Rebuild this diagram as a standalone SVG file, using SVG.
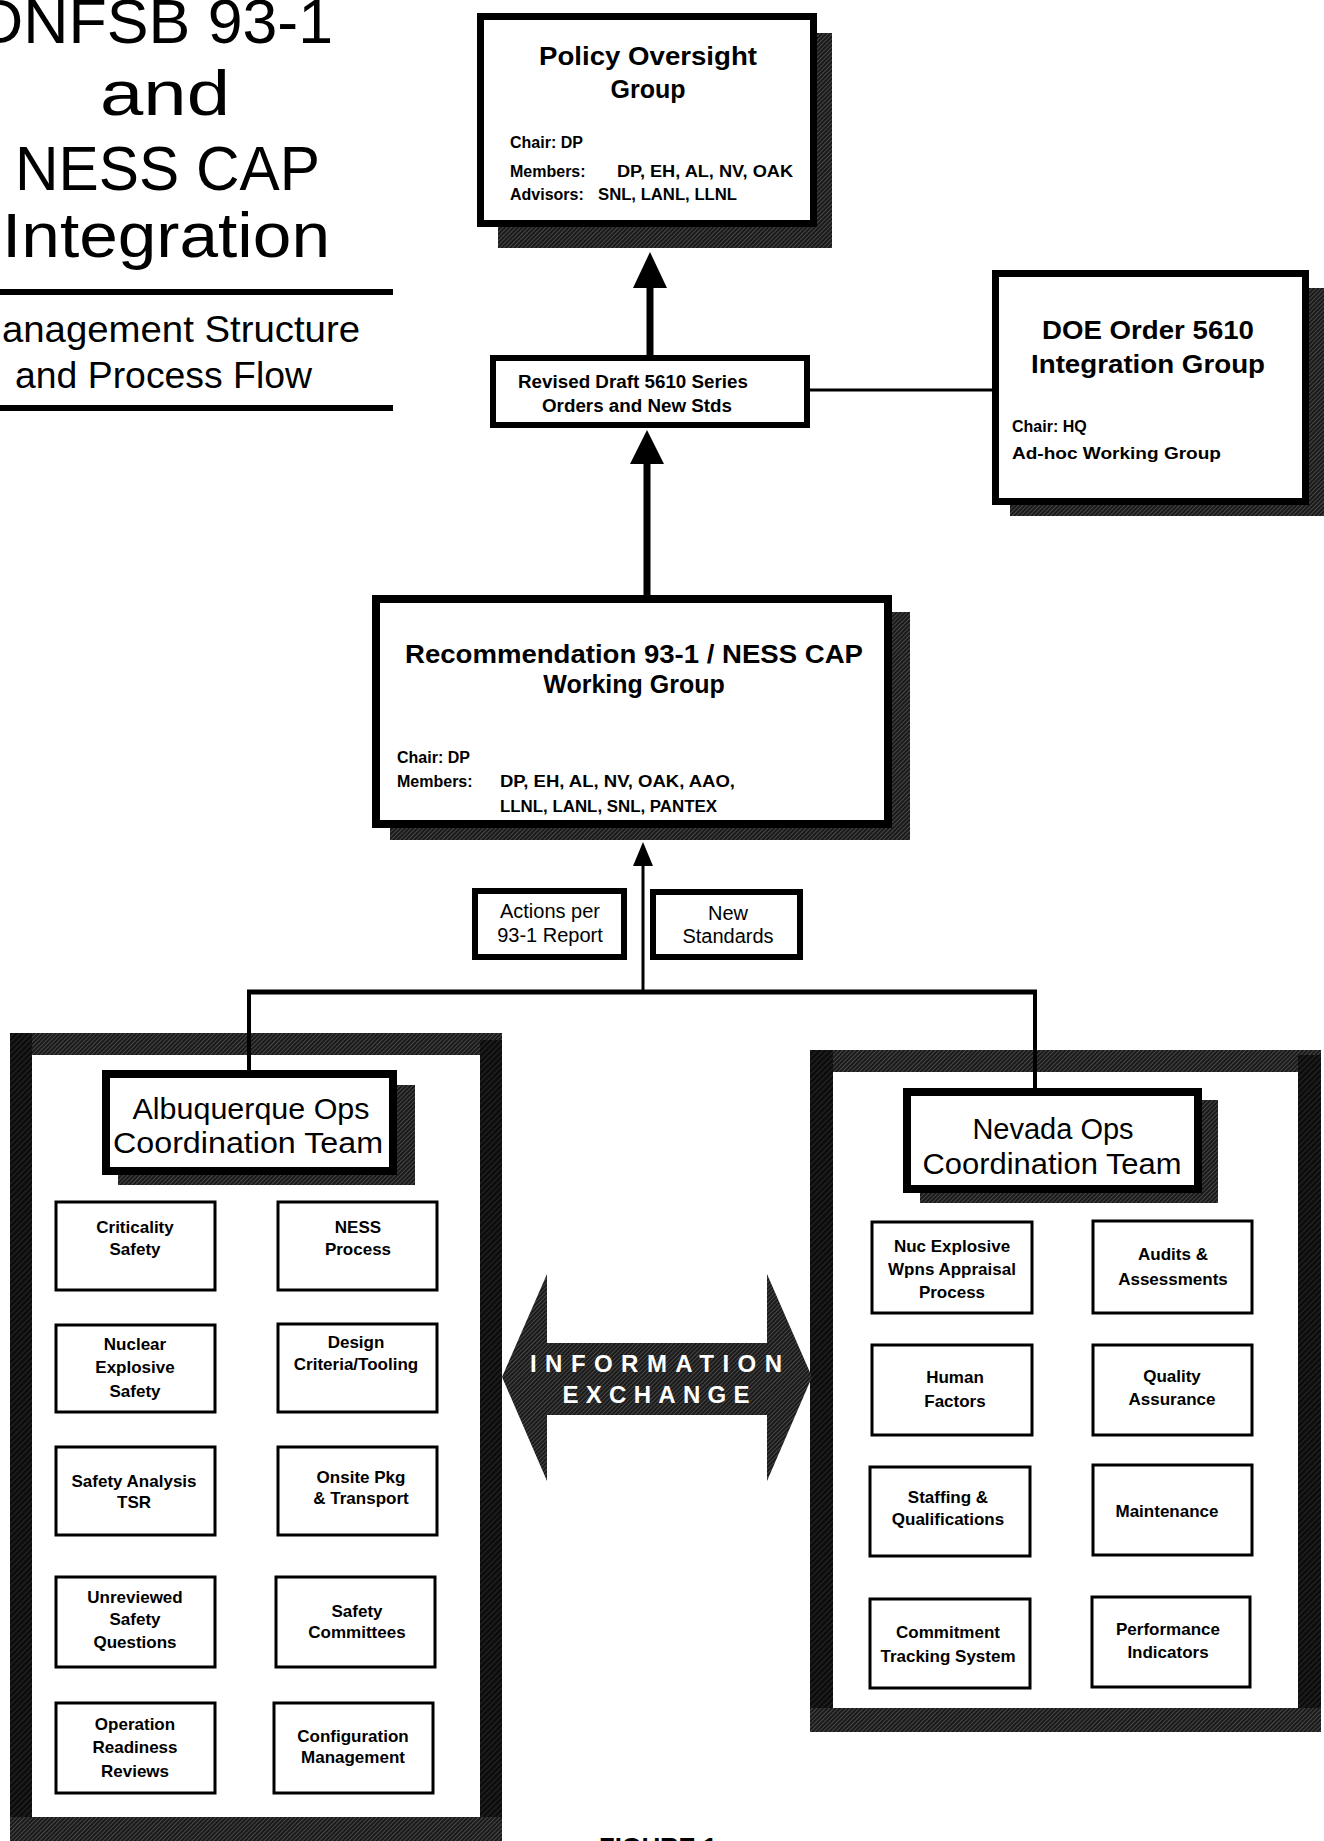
<svg xmlns="http://www.w3.org/2000/svg" width="1324" height="1841" viewBox="0 0 1324 1841">
<defs>
<pattern id="hatch" width="3" height="3" patternUnits="userSpaceOnUse" patternTransform="rotate(45)">
<rect width="3" height="3" fill="#1a1a1a"/><line x1="0" y1="0" x2="0" y2="3" stroke="#8a8a8a" stroke-width="0.8"/>
</pattern>
<pattern id="hatchDark" width="4" height="4" patternUnits="userSpaceOnUse" patternTransform="rotate(45)">
<rect width="4" height="4" fill="#0d0d0d"/><line x1="0" y1="0" x2="0" y2="4" stroke="#555" stroke-width="0.7"/>
</pattern>
<style>
text{font-family:"Liberation Sans",Arial,sans-serif;fill:#000}
.title{font-size:63px}
.sub{font-size:36px}
.hb{font-size:25px;font-weight:bold;text-anchor:middle}
.sm{font-size:16px;font-weight:bold}
.md{font-size:18px;font-weight:bold;text-anchor:middle}
.rg{font-size:20px;text-anchor:middle}
.ct{font-size:29px;text-anchor:middle}
.bx{font-size:17px;font-weight:bold;text-anchor:middle}
.box{fill:#fff;stroke:#000}
.small{fill:#fff;stroke:#000;stroke-width:3}
.shadow{fill:url(#hatch)}
.band{fill:url(#hatch)}
.side{fill:url(#hatchDark)}
.ie{font-size:24px;font-weight:bold;fill:#fff;text-anchor:middle}
</style>
</defs>
<rect width="1324" height="1841" fill="#fff"/>

<g id="title">
<text class="title" x="333" y="43" text-anchor="end" textLength="355" lengthAdjust="spacingAndGlyphs">DNFSB 93-1</text>
<text class="title" x="165" y="115" text-anchor="middle" textLength="130" lengthAdjust="spacingAndGlyphs">and</text>
<text class="title" x="15" y="190" textLength="305" lengthAdjust="spacingAndGlyphs">NESS CAP</text>
<text class="title" x="2" y="257" textLength="328" lengthAdjust="spacingAndGlyphs">Integration</text>
<rect x="0" y="289" width="393" height="6" fill="#000"/>
<text class="sub" x="360" y="342" text-anchor="end" textLength="390" lengthAdjust="spacingAndGlyphs">Management Structure</text>
<text class="sub" x="15" y="388" textLength="297" lengthAdjust="spacingAndGlyphs">and Process Flow</text>
<rect x="0" y="405" width="393" height="6" fill="#000"/>
</g>

<g id="frames">
<g id="albuquerque-frame">
<rect class="band" x="10" y="1033" width="492" height="22"/>
<rect class="side" x="10" y="1033" width="22" height="808"/>
<rect class="side" x="480" y="1040" width="22" height="801"/>
<rect class="band" x="10" y="1817" width="492" height="24"/>
</g>
<g id="nevada-frame">
<rect class="band" x="810" y="1050" width="511" height="22"/>
<rect class="side" x="810" y="1050" width="23" height="682"/>
<rect class="side" x="1298" y="1055" width="23" height="677"/>
<rect class="band" x="810" y="1708" width="511" height="24"/>
</g>
</g>

<g id="connectors">
<line x1="810" y1="390" x2="992" y2="390" stroke="#000" stroke-width="3"/>
<line x1="650" y1="356" x2="650" y2="282" stroke="#000" stroke-width="7"/>
<polygon points="633,288 667,288 650,252" fill="#000"/>
<line x1="647" y1="596" x2="647" y2="458" stroke="#000" stroke-width="7"/>
<polygon points="630,464 664,464 647,430" fill="#000"/>
<line x1="643" y1="993" x2="643" y2="860" stroke="#000" stroke-width="3"/>
<polygon points="633,866 653,866 643,842" fill="#000"/>
<line x1="247" y1="992" x2="1037" y2="992" stroke="#000" stroke-width="5"/>
<line x1="249" y1="990" x2="249" y2="1072" stroke="#000" stroke-width="4"/>
<line x1="1035" y1="990" x2="1035" y2="1090" stroke="#000" stroke-width="4"/>
<g id="information-exchange">
<polygon points="502,1377 547,1274 547,1343 767,1343 767,1274 812,1377 767,1481 767,1415 547,1415 547,1481" fill="url(#hatch)"/>
<text class="ie" x="656" y="1372" textLength="252" lengthAdjust="spacing">INFORMATION</text>
<text class="ie" x="656" y="1403" textLength="187" lengthAdjust="spacing">EXCHANGE</text>
</g>
</g>

<g id="policy-oversight">
<rect class="shadow" x="498" y="33" width="334" height="215"/>
<rect class="box" x="480.5" y="16.5" width="333" height="207" stroke-width="7"/>
<text class="hb" x="648" y="65" textLength="218" lengthAdjust="spacingAndGlyphs">Policy Oversight</text>
<text class="hb" x="648" y="98">Group</text>
<text class="sm" x="510" y="148">Chair: DP</text>
<text class="sm" x="510" y="177">Members:</text>
<text class="sm" x="617" y="177" textLength="176" lengthAdjust="spacingAndGlyphs">DP, EH, AL, NV, OAK</text>
<text class="sm" x="510" y="200">Advisors:</text>
<text class="sm" x="598" y="200" textLength="139" lengthAdjust="spacingAndGlyphs">SNL, LANL, LLNL</text>
</g>

<g id="revised-draft">
<rect class="box" x="493" y="358" width="314" height="67" stroke-width="6"/>
<text class="md" x="633" y="388" textLength="230" lengthAdjust="spacingAndGlyphs">Revised Draft 5610 Series</text>
<text class="md" x="637" y="412" textLength="190" lengthAdjust="spacingAndGlyphs">Orders and New Stds</text>
</g>

<g id="doe-order-5610">
<rect class="shadow" x="1010" y="288" width="314" height="228"/>
<rect class="box" x="995.5" y="273.5" width="310" height="228" stroke-width="7"/>
<text class="hb" x="1148" y="339" textLength="212" lengthAdjust="spacingAndGlyphs">DOE Order 5610</text>
<text class="hb" x="1148" y="373" textLength="234" lengthAdjust="spacingAndGlyphs">Integration Group</text>
<text class="sm" x="1012" y="432">Chair: HQ</text>
<text class="sm" x="1012" y="459" textLength="209" lengthAdjust="spacingAndGlyphs">Ad-hoc Working Group</text>
</g>

<g id="recommendation-93-1">
<rect class="shadow" x="390" y="612" width="520" height="228"/>
<rect class="box" x="376" y="599" width="512" height="225" stroke-width="8"/>
<text class="hb" x="634" y="663" textLength="458" lengthAdjust="spacingAndGlyphs">Recommendation 93-1 / NESS CAP</text>
<text class="hb" x="634" y="693">Working Group</text>
<text class="sm" x="397" y="763">Chair: DP</text>
<text class="sm" x="397" y="787">Members:</text>
<text class="sm" x="500" y="787" textLength="235" lengthAdjust="spacingAndGlyphs">DP, EH, AL, NV, OAK, AAO,</text>
<text class="sm" x="500" y="812" textLength="217" lengthAdjust="spacingAndGlyphs">LLNL, LANL, SNL, PANTEX</text>
</g>

<g id="actions-per-report">
<rect class="box" x="475" y="891" width="149" height="66" stroke-width="6"/>
<text class="rg" x="550" y="918">Actions per</text>
<text class="rg" x="550" y="942">93-1 Report</text>
</g>

<g id="new-standards">
<rect class="box" x="653" y="892" width="147" height="65" stroke-width="6"/>
<text class="rg" x="728" y="920">New</text>
<text class="rg" x="728" y="943">Standards</text>
</g>

<g id="albuquerque-ops">
<rect class="shadow" x="118" y="1085" width="297" height="100"/>
<rect class="box" x="106" y="1074" width="287" height="97" stroke-width="8"/>
<text class="ct" x="251" y="1119" textLength="237" lengthAdjust="spacingAndGlyphs">Albuquerque Ops</text>
<text class="ct" x="248" y="1153" textLength="270" lengthAdjust="spacingAndGlyphs">Coordination Team</text>
</g>

<g id="criticality-safety"><rect class="small" x="56" y="1202" width="159" height="88"/>
<text class="bx" x="135" y="1233">Criticality</text><text class="bx" x="135" y="1255">Safety</text></g>
<g id="ness-process"><rect class="small" x="278" y="1202" width="159" height="88"/>
<text class="bx" x="358" y="1233">NESS</text><text class="bx" x="358" y="1255">Process</text></g>
<g id="nuclear-explosive-safety"><rect class="small" x="56" y="1325" width="159" height="87"/>
<text class="bx" x="135" y="1350">Nuclear</text><text class="bx" x="135" y="1373">Explosive</text><text class="bx" x="135" y="1397">Safety</text></g>
<g id="design-criteria"><rect class="small" x="278" y="1324" width="159" height="88"/>
<text class="bx" x="356" y="1348">Design</text><text class="bx" x="356" y="1370">Criteria/Tooling</text></g>
<g id="safety-analysis-tsr"><rect class="small" x="56" y="1447" width="159" height="88"/>
<text class="bx" x="134" y="1487">Safety Analysis</text><text class="bx" x="134" y="1508">TSR</text></g>
<g id="onsite-pkg"><rect class="small" x="278" y="1447" width="159" height="88"/>
<text class="bx" x="361" y="1483">Onsite Pkg</text><text class="bx" x="361" y="1504">&amp; Transport</text></g>
<g id="unreviewed-safety-questions"><rect class="small" x="56" y="1577" width="159" height="90"/>
<text class="bx" x="135" y="1603">Unreviewed</text><text class="bx" x="135" y="1625">Safety</text><text class="bx" x="135" y="1648">Questions</text></g>
<g id="safety-committees"><rect class="small" x="276" y="1577" width="159" height="90"/>
<text class="bx" x="357" y="1617">Safety</text><text class="bx" x="357" y="1638">Committees</text></g>
<g id="operation-readiness-reviews"><rect class="small" x="56" y="1703" width="159" height="90"/>
<text class="bx" x="135" y="1730">Operation</text><text class="bx" x="135" y="1753">Readiness</text><text class="bx" x="135" y="1777">Reviews</text></g>
<g id="configuration-management"><rect class="small" x="274" y="1703" width="159" height="90"/>
<text class="bx" x="353" y="1742">Configuration</text><text class="bx" x="353" y="1763">Management</text></g>

<g id="nevada-ops">
<rect class="shadow" x="920" y="1100" width="298" height="103"/>
<rect class="box" x="907" y="1092" width="291" height="97" stroke-width="8"/>
<text class="ct" x="1053" y="1139">Nevada Ops</text>
<text class="ct" x="1052" y="1174" textLength="259" lengthAdjust="spacingAndGlyphs">Coordination Team</text>
</g>

<g id="nuc-explosive-wpns"><rect class="small" x="872" y="1222" width="160" height="91"/>
<text class="bx" x="952" y="1252">Nuc Explosive</text><text class="bx" x="952" y="1275">Wpns Appraisal</text><text class="bx" x="952" y="1298">Process</text></g>
<g id="audits-assessments"><rect class="small" x="1093" y="1221" width="159" height="92"/>
<text class="bx" x="1173" y="1260">Audits &amp;</text><text class="bx" x="1173" y="1285">Assessments</text></g>
<g id="human-factors"><rect class="small" x="872" y="1345" width="160" height="90"/>
<text class="bx" x="955" y="1383">Human</text><text class="bx" x="955" y="1407">Factors</text></g>
<g id="quality-assurance"><rect class="small" x="1093" y="1345" width="159" height="90"/>
<text class="bx" x="1172" y="1382">Quality</text><text class="bx" x="1172" y="1405">Assurance</text></g>
<g id="staffing-qualifications"><rect class="small" x="870" y="1467" width="160" height="89"/>
<text class="bx" x="948" y="1503">Staffing &amp;</text><text class="bx" x="948" y="1525">Qualifications</text></g>
<g id="maintenance"><rect class="small" x="1093" y="1465" width="159" height="90"/>
<text class="bx" x="1167" y="1517">Maintenance</text></g>
<g id="commitment-tracking"><rect class="small" x="870" y="1599" width="160" height="89"/>
<text class="bx" x="948" y="1638">Commitment</text><text class="bx" x="948" y="1662">Tracking System</text></g>
<g id="performance-indicators"><rect class="small" x="1092" y="1597" width="158" height="90"/>
<text class="bx" x="1168" y="1635">Performance</text><text class="bx" x="1168" y="1658">Indicators</text></g>

<text x="658" y="1856" text-anchor="middle" font-size="26" font-weight="bold" textLength="118" lengthAdjust="spacingAndGlyphs">FIGURE 1</text>
</svg>
